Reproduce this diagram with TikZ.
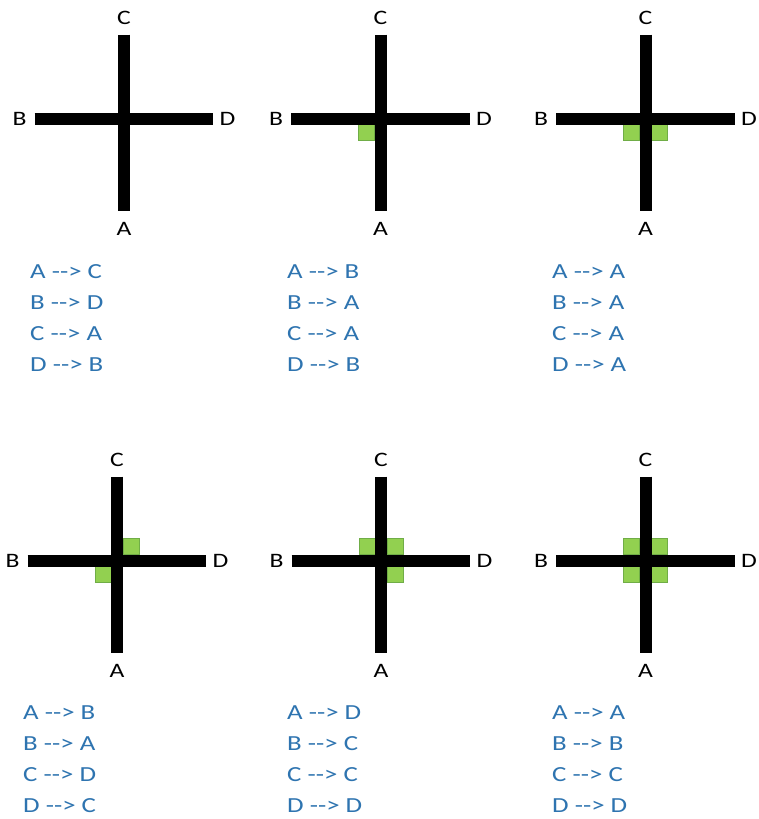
\documentclass[tikz,border=0pt]{standalone}
\usepackage{fontspec}
\setmainfont{Carlito}
\newfontfamily\widefont{Carlito}[FakeStretch=1.25]
\definecolor{txtblue}{RGB}{46,116,176}
\definecolor{sqfill}{RGB}{146,208,80}
\definecolor{sqedge}{RGB}{112,173,71}
\tikzset{
  bar/.style={line width=12pt, black},
  lbl/.style={font=\widefont\fontsize{20.5}{24}\selectfont, text=black, inner sep=0pt},
  mapline/.style={font=\widefont\fontsize{21.5}{24}\selectfont, text=txtblue, inner sep=0pt, anchor=base west},
  sq/.style={fill=sqfill, draw=sqedge, line width=0.8pt}
}
\newcommand\arr{-{}-{}>}
% #1 suffix, #2 cx, #3 cy
\newcommand\crossat[3]{%
  \coordinate (top#1) at (#2,#3-84);
  \coordinate (bot#1) at (#2,#3+92.5);
  \coordinate (lft#1) at (#2-89.5,#3);
  \coordinate (rgt#1) at (#2+89,#3);
  \draw[bar] (top#1) -- (bot#1);
  \draw[bar] (lft#1) -- (rgt#1);
  \node[lbl] (C#1) at (#2,#3-101) {C};
  \node[lbl] (A#1) at (#2,#3+110) {A};
  \node[lbl] (B#1) at (#2-104.5,#3) {B};
  \node[lbl] (D#1) at (#2+103.5,#3) {D};
}
\newcommand\sqUL[2]{\filldraw[sq] (#1-22,#2-22) rectangle (#1-6,#2-6);}
\newcommand\sqUR[2]{\filldraw[sq] (#1+6,#2-22) rectangle (#1+22,#2-6);}
\newcommand\sqLL[2]{\filldraw[sq] (#1-22,#2+6) rectangle (#1-6,#2+22);}
\newcommand\sqLR[2]{\filldraw[sq] (#1+6,#2+6) rectangle (#1+22,#2+22);}
% #1 suffix, #2 x, #3 first baseline, #4..#7 lines
\newcommand\maplines[7]{%
  \node[mapline] (m#1a) at (#2,#3) {#4};
  \node[mapline] (m#1b) at (#2,#3+31) {#5};
  \node[mapline] (m#1c) at (#2,#3+62) {#6};
  \node[mapline] (m#1d) at (#2,#3+93) {#7};
}
\begin{document}
\begin{tikzpicture}[x=1pt,y=-1pt]
\useasboundingbox[fill=white] (0,0) rectangle (758,819);
% green squares (beneath bars)
\sqLL{380.5}{118.5}
\sqLL{645.5}{118.5}
\sqLR{645.5}{118.5}
\sqUR{117}{560.5}
\sqLL{117}{560.5}
\sqUL{381}{560.5}
\sqUR{381}{560.5}
\sqLR{381}{560.5}
\sqUL{645.5}{560.5}
\sqUR{645.5}{560.5}
\sqLL{645.5}{560.5}
\sqLR{645.5}{560.5}
% crosses
\crossat{1}{124}{118.5}
\crossat{2}{380.5}{118.5}
\crossat{3}{645.5}{118.5}
\crossat{4}{117}{560.5}
\crossat{5}{381}{560.5}
\crossat{6}{645.5}{560.5}
% mappings
\maplines{1}{30}{278}{A \arr{} C}{B \arr{} D}{C \arr{} A}{D \arr{} B}
\maplines{2}{287}{278}{A \arr{} B}{B \arr{} A}{C \arr{} A}{D \arr{} B}
\maplines{3}{552}{278}{A \arr{} A}{B \arr{} A}{C \arr{} A}{D \arr{} A}
\maplines{4}{23}{719.5}{A \arr{} B}{B \arr{} A}{C \arr{} D}{D \arr{} C}
\maplines{5}{287}{719.5}{A \arr{} D}{B \arr{} C}{C \arr{} C}{D \arr{} D}
\maplines{6}{552}{719.5}{A \arr{} A}{B \arr{} B}{C \arr{} C}{D \arr{} D}
\end{tikzpicture}
\end{document}
